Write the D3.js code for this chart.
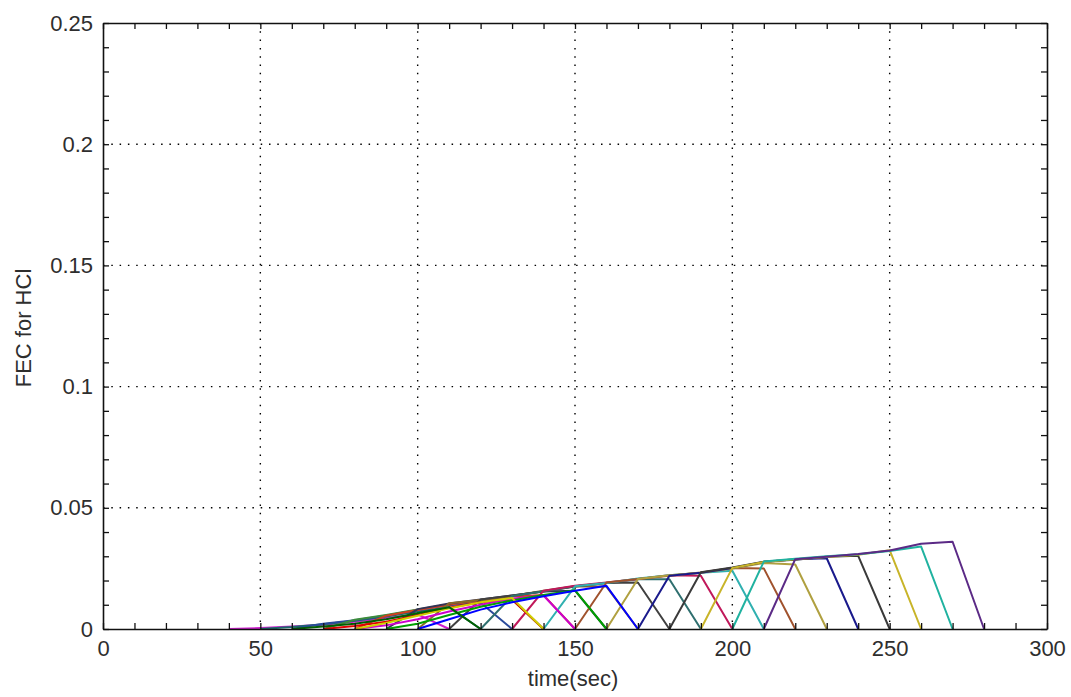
<!DOCTYPE html>
<html><head><meta charset="utf-8">
<script src="https://cdn.jsdelivr.net/npm/d3@7"></script>
<style>body{margin:0;background:#fff} svg{display:block}</style>
</head><body><svg id="c" width="1071" height="697"></svg>
<script>
// ---- data ----
const xMajorTicks = [0, 50, 100, 150, 200, 250, 300];
const xTickLabels = ["0", "50", "100", "150", "200", "250", "300"];
const yMajorTicks = [0, 0.05, 0.1, 0.15, 0.2, 0.25];
const yTickLabels = ["0", "0.05", "0.1", "0.15", "0.2", "0.25"];
const xMinorStep = 10;
const yMinorStep = 0.01;
const sampleStep = 10; // seconds between samples

// time (s) of the last zero before each series rises
const seriesStart = [40, 50, 60, 70, 80, 90, 100, 110, 120, 130, 140, 150, 160, 170, 180, 190, 200, 210,
                     70, 80, 90, 80, 100, 60];
// values at start+10, start+20, ... (series returns to 0 one step after the last value)
const seriesValues = [
  [0.0004, 0.0010, 0.0018, 0.0030, 0.0045, 0.0060],
  [0.0008, 0.0020, 0.0034, 0.0052, 0.0072, 0.0090],
  [0.0022, 0.0036, 0.0056, 0.0078, 0.0098, 0.0108],
  [0.0038, 0.0058, 0.0080, 0.0102, 0.0118, 0.0122],
  [0.0055, 0.0078, 0.0100, 0.0120, 0.0134, 0.0140],
  [0.0082, 0.0105, 0.0122, 0.0138, 0.0155, 0.0158],
  [0.0106, 0.0120, 0.0136, 0.0158, 0.0176, 0.0175],
  [0.0122, 0.0138, 0.0155, 0.0175, 0.0190, 0.0192],
  [0.0136, 0.0156, 0.0176, 0.0190, 0.0205, 0.0205],
  [0.0158, 0.0178, 0.0192, 0.0206, 0.0222, 0.0220],
  [0.0176, 0.0190, 0.0208, 0.0222, 0.0232, 0.0240],
  [0.0192, 0.0206, 0.0220, 0.0233, 0.0252, 0.0250],
  [0.0206, 0.0222, 0.0232, 0.0250, 0.0272, 0.0266],
  [0.0220, 0.0232, 0.0252, 0.0276, 0.0288, 0.0292],
  [0.0234, 0.0254, 0.0278, 0.0286, 0.0298, 0.0302],
  [0.0252, 0.0276, 0.0288, 0.0297, 0.0306, 0.0325],
  [0.0278, 0.0290, 0.0300, 0.0308, 0.0322, 0.0340],
  [0.0288, 0.0298, 0.0309, 0.0324, 0.0352, 0.0360],
  [0.0012, 0.0030, 0.0058, 0.0088, 0.0110, 0.0122],
  [0.0015, 0.0040, 0.0072, 0.0100, 0.0125, 0.0138],
  [0.0022, 0.0058, 0.0092, 0.0118, 0.0140, 0.0160],
  [0.0025, 0.0055, 0.0085, 0.0110, 0.0128],
  [0.0040, 0.0080, 0.0110, 0.0135, 0.0158, 0.0178],
  [0.0010, 0.0022, 0.0040, 0.0065, 0.0090]
];
const seriesColors = [
  "#d020d0", "#1a6a6a", "#2a4a9a", "#3c8c3c", "#d04020", "#333355", "#8a6a2a", "#404040",
  "#2f6f6f", "#c0185a", "#30b0b0", "#a0522d", "#b0a040", "#1a1a8c", "#3a3a3a", "#c8b428",
  "#20b2a0", "#5b2a86",
  "#e00000", "#cc00cc", "#00a000", "#d0d000", "#0000ff", "#006000"
];

// ---- layout ----
const svg = d3.select("#c");
const M = {l: 103, r: 1047, t: 23, b: 629};
const x = d3.scaleLinear().domain([0, 300]).range([M.l, M.r]);
const y = d3.scaleLinear().domain([0, 0.25]).range([M.b, M.t]);
const FONT = "'Liberation Sans', Arial, sans-serif";
const TXT = "#2e2e2e";

svg.append("rect").attr("width", 1071).attr("height", 697).attr("fill", "#fff");

// grid
const g = svg.append("g");
g.selectAll(".gx").data(xMajorTicks.slice(1, -1)).enter().append("line")
  .attr("x1", d => x(d)).attr("x2", d => x(d)).attr("y1", M.t).attr("y2", M.b)
  .attr("stroke", "#000").attr("stroke-width", 1.4).attr("stroke-dasharray", "1.5,6.8");
g.selectAll(".gy").data(yMajorTicks.slice(1, -1)).enter().append("line")
  .attr("x1", M.l).attr("x2", M.r).attr("y1", d => y(d)).attr("y2", d => y(d))
  .attr("stroke", "#000").attr("stroke-width", 1.4).attr("stroke-dasharray", "1.5,6.8");

// series
const line = d3.line().x(d => x(d.t)).y(d => y(d.v));
seriesValues.forEach((vals, i) => {
  const s = seriesStart[i];
  const pts = [{t: s, v: 0}];
  vals.forEach((v, j) => pts.push({t: s + sampleStep * (j + 1), v}));
  pts.push({t: s + sampleStep * (vals.length + 1), v: 0});
  svg.append("path").datum(pts).attr("d", line)
    .attr("fill", "none").attr("stroke", seriesColors[i])
    .attr("stroke-width", 2).attr("stroke-linejoin", "round");
});

// axes (ticks inward on all sides)
const xMinor = d3.range(0, 300 + 0.001, xMinorStep);
const yMinor = d3.range(0, 0.25 + 1e-9, yMinorStep);
const fmtX = d => { const k = xMajorTicks.indexOf(Math.round(d)); return k >= 0 ? xTickLabels[k] : ""; };
const fmtY = d => { const k = yMajorTicks.findIndex(v => Math.abs(v - d) < 1e-9); return k >= 0 ? yTickLabels[k] : ""; };

function styleAxis(sel) {
  sel.select(".domain").attr("stroke", "#111").attr("stroke-width", 1.6);
  sel.selectAll(".tick line").attr("stroke", "#111").attr("stroke-width", 1.3);
  sel.selectAll("text").attr("font-family", FONT).attr("font-size", 22).attr("fill", TXT);
}
svg.append("g").attr("transform", `translate(0,${M.b})`)
  .call(d3.axisBottom(x).tickValues(xMinor).tickFormat(fmtX).tickSizeInner(-6).tickSizeOuter(0).tickPadding(11))
  .call(styleAxis);
svg.append("g").attr("transform", `translate(0,${M.t})`)
  .call(d3.axisTop(x).tickValues(xMinor).tickFormat("").tickSizeInner(-6).tickSizeOuter(0))
  .call(styleAxis);
svg.append("g").attr("transform", `translate(${M.l},0)`)
  .call(d3.axisLeft(y).tickValues(yMinor).tickFormat(fmtY).tickSizeInner(-6).tickSizeOuter(0).tickPadding(10))
  .call(styleAxis);
svg.append("g").attr("transform", `translate(${M.r},0)`)
  .call(d3.axisRight(y).tickValues(yMinor).tickFormat("").tickSizeInner(-6).tickSizeOuter(0))
  .call(styleAxis);

// labels
svg.append("text").attr("x", 573).attr("y", 686).attr("text-anchor", "middle")
  .attr("font-family", FONT).attr("font-size", 22).attr("fill", TXT).text("time(sec)");
svg.append("text").attr("transform", "translate(31,328) rotate(-90)").attr("text-anchor", "middle")
  .attr("font-family", FONT).attr("font-size", 22).attr("fill", TXT).text("FEC for HCl");
</script></body></html>
